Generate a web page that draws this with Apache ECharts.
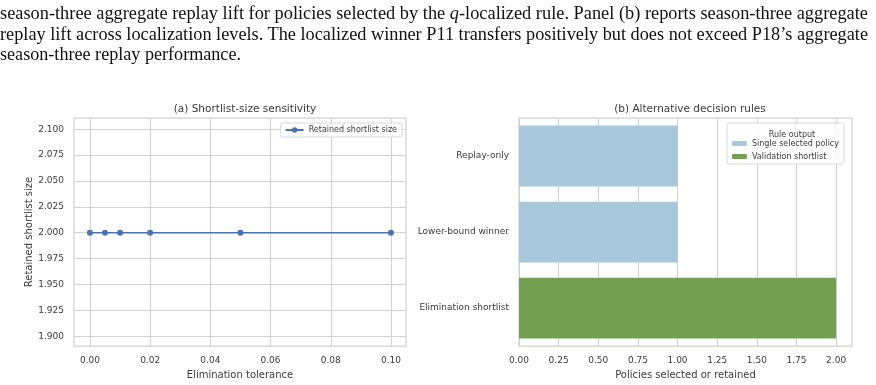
<!DOCTYPE html>
<html>
<head>
<meta charset="utf-8">
<script src="https://cdn.jsdelivr.net/npm/echarts@6/dist/echarts.min.js"></script>
<style>
  html, body { margin: 0; padding: 0; background: #fff; }
  #caption {
    position: absolute; left: 0; top: 3px; width: 868px;
    font-family: 'Liberation Serif', serif; font-size: 19.4px; line-height: 20.6px;
    color: #111; z-index: 2;
  }
  #caption div { height: 20.6px; }
  #caption span { display: inline-block; white-space: nowrap; transform-origin: 0 0; }
  #chart { position: absolute; left: 0; top: 0; width: 876px; height: 385px; }
</style>
</head>
<body>
<div id="caption">
  <div><span data-w="868">season-three aggregate replay lift for policies selected by the <i>q</i>-localized rule. Panel (b) reports season-three aggregate</span></div>
  <div><span data-w="868">replay lift across localization levels. The localized winner P11 transfers positively but does not exceed P18’s aggregate</span></div>
  <div><span data-w="241">season-three replay performance.</span></div>
</div>
<div id="chart"></div>
<script>
// panel (a)
const tolerances = [0, 0.005, 0.01, 0.02, 0.05, 0.1];
const shortlistSizes = [2, 2, 2, 2, 2, 2];
const toleranceTicks = [0, 0.02, 0.04, 0.06, 0.08, 0.1];
const sizeTicks = [1.9, 1.925, 1.95, 1.975, 2.0, 2.025, 2.05, 2.075, 2.1];

// panel (b)
const rules = ['Replay-only', 'Lower-bound winner', 'Elimination shortlist'];
const singleSelected = [1, 1, null];
const validationShortlist = [null, null, 2];
const policyTicks = [0, 0.25, 0.5, 0.75, 1.0, 1.25, 1.5, 1.75, 2.0];

// squeeze caption lines to the widths of the page they came from
document.querySelectorAll('#caption span').forEach(s => {
  const w = s.getBoundingClientRect().width;
  s.style.transform = 'scaleX(' + (Number(s.dataset.w) / w) + ')';
});

const font = 'DejaVu Sans';
const txt = '#3b3b3b';
const gridCol = '#d2d2d2';

let myChart = echarts.init(document.getElementById('chart'));

myChart.setOption({
  animation: false,
  textStyle: { fontFamily: font, color: txt },
  title: [
    { text: '(a) Shortlist-size sensitivity', left: 240, top: 99, textAlign: 'center',
      textStyle: { fontSize: 10.5, fontWeight: 'normal', color: txt, fontFamily: font } },
    { text: '(b) Alternative decision rules', left: 685, top: 99, textAlign: 'center',
      textStyle: { fontSize: 10.5, fontWeight: 'normal', color: txt, fontFamily: font } },
    { text: 'Rule output', left: 787, top: 126, textAlign: 'center',
      textStyle: { fontSize: 8, fontWeight: 'normal', color: txt, fontFamily: font } }
  ],
  legend: [
    {
      data: ['Retained shortlist size'],
      right: 474, top: 123, padding: [3, 5, 3, 4],
      itemWidth: 18, itemHeight: 7,
      borderColor: '#d8d8d8', borderWidth: 1, borderRadius: 2,
      backgroundColor: 'rgba(255,255,255,0.85)',
      textStyle: { fontSize: 8, color: txt, fontFamily: font }
    },
    {
      data: ['Single selected policy', 'Validation shortlist'],
      left: 727, top: 123, orient: 'vertical', padding: [16, 5, 3, 5],
      itemWidth: 15, itemHeight: 5, itemGap: 4,
      borderColor: '#d8d8d8', borderWidth: 1, borderRadius: 2,
      backgroundColor: 'rgba(255,255,255,0.85)',
      textStyle: { fontSize: 8, color: txt, fontFamily: font, lineHeight: 9 }
    }
  ],
  grid: [
    { left: 74, top: 118, width: 332, height: 229, show: true, borderColor: gridCol, borderWidth: 1.25, backgroundColor: '#fff' },
    { left: 519, top: 118, width: 333, height: 229, show: true, borderColor: gridCol, borderWidth: 1.25, backgroundColor: '#fff' }
  ],
  xAxis: [
    {
      gridIndex: 0, type: 'value', min: -0.0053, max: 0.105,
      name: 'Elimination tolerance', nameLocation: 'middle', nameGap: 22,
      nameTextStyle: { fontSize: 10, color: txt },
      axisLine: { show: false },
      axisTick: { show: false, customValues: toleranceTicks },
      axisLabel: { customValues: toleranceTicks, fontSize: 9, color: txt, margin: 10,
        formatter: v => v.toFixed(2) },
      splitLine: { show: true, lineStyle: { color: gridCol, width: 1.1 } }
    },
    {
      gridIndex: 1, type: 'value', min: 0, max: 2.1,
      name: 'Policies selected or retained', nameLocation: 'middle', nameGap: 22,
      nameTextStyle: { fontSize: 10, color: txt },
      axisLine: { show: false },
      axisTick: { show: false, customValues: policyTicks },
      axisLabel: { customValues: policyTicks, fontSize: 9, color: txt, margin: 10,
        formatter: v => v.toFixed(2) },
      splitLine: { show: true, lineStyle: { color: gridCol, width: 1.1 } }
    }
  ],
  yAxis: [
    {
      gridIndex: 0, type: 'value', min: 1.8904, max: 2.1109,
      name: 'Retained shortlist size', nameLocation: 'middle', nameGap: 40,
      nameTextStyle: { fontSize: 10, color: txt },
      axisLine: { show: false },
      axisTick: { show: false, customValues: sizeTicks },
      axisLabel: { customValues: sizeTicks, fontSize: 9, color: txt, margin: 10,
        formatter: v => v.toFixed(3) },
      splitLine: { show: true, lineStyle: { color: gridCol, width: 1.1 } }
    },
    {
      gridIndex: 1, type: 'category', data: rules, inverse: true,
      axisLine: { show: false },
      axisTick: { show: false },
      axisLabel: { fontSize: 9, color: txt, margin: 10 },
      splitLine: { show: false }
    }
  ],
  series: [
    {
      name: 'Retained shortlist size', type: 'line',
      xAxisIndex: 0, yAxisIndex: 0,
      data: tolerances.map((t, i) => [t, shortlistSizes[i]]),
      symbol: 'circle', symbolSize: 6,
      lineStyle: { color: '#4c72b0', width: 1.5 },
      itemStyle: { color: '#4c72b0' }
    },
    {
      name: 'Single selected policy', type: 'bar', stack: 'rule',
      xAxisIndex: 1, yAxisIndex: 1,
      data: singleSelected, barWidth: '80%',
      itemStyle: { color: '#a7c7db' }
    },
    {
      name: 'Validation shortlist', type: 'bar', stack: 'rule',
      xAxisIndex: 1, yAxisIndex: 1,
      data: validationShortlist, barWidth: '80%',
      itemStyle: { color: '#74a053' }
    }
  ]
});

window.onresize = function () {
  myChart.resize();
};
</script>
</body>
</html>
